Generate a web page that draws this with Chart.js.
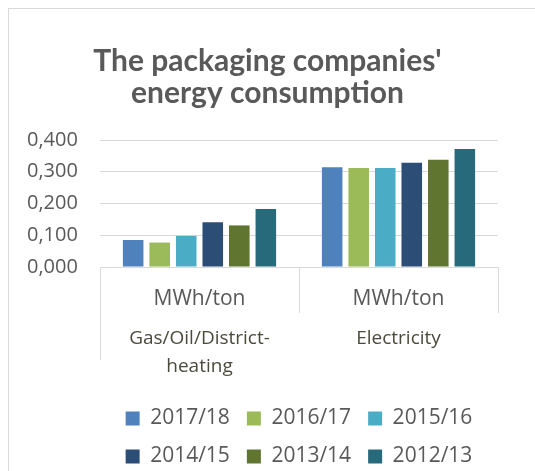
<!DOCTYPE html>
<html>
<head>
<meta charset="utf-8">
<script src="https://cdn.jsdelivr.net/npm/chart.js@4.4.0/dist/chart.umd.min.js"></script>
<style>
  html, body { margin: 0; padding: 0; overflow: hidden; background: #fff; }
  #frame {
    position: absolute; left: 8px; top: 8px; width: 600px; height: 600px;
    border-top: 1px solid #d9d9d9; border-left: 1px solid #d9d9d9;
  }
  #wrap { position: absolute; left: 0; top: 0; width: 535px; height: 471px; }
</style>
</head>
<body>
<div id="frame"></div>
<div id="wrap"><canvas id="energyChart" width="535" height="471"></canvas></div>
<script>
const units = ["MWh/ton", "MWh/ton"];
const energyTypes = [["Gas/Oil/District-", "heating"], "Electricity"];
const seasons = ["2017/18", "2016/17", "2015/16", "2014/15", "2013/14", "2012/13"];
const seasonColors = ["#4F81BD", "#9BBB59", "#4BACC6", "#2C4D75", "#5F7530", "#276A7C"];

// one value per season, same order as seasons
const gasOilDistrict = [0.085, 0.077, 0.098, 0.141, 0.131, 0.183];
const electricity = [0.314, 0.312, 0.312, 0.328, 0.338, 0.372];

const yTicks = [0, 0.1, 0.2, 0.3, 0.4];

const axisGrey = "#d9d9d9";
const textGrey = "#595959";

const datasets = seasons.map((season, i) => ({
  label: season,
  data: [gasOilDistrict[i], electricity[i]],
  backgroundColor: seasonColors[i],
  borderWidth: 0,
  categoryPercentage: 0.8,
  barPercentage: 0.775,
}));

const ctx = document.getElementById("energyChart").getContext("2d");
new Chart(ctx, {
  type: "bar",
  data: { labels: units, datasets: datasets },
  options: {
    responsive: false,
    animation: false,
    devicePixelRatio: 1,
    layout: { padding: { left: 37, right: 37, top: 0, bottom: -6 } },
    plugins: {
      tooltip: { enabled: false },
      title: {
        display: true,
        text: ["The packaging companies'", "energy consumption"],
        color: textGrey,
        font: { family: "Lato", size: 30, weight: "bold", lineHeight: 32 / 30 },
        padding: { top: 45, bottom: 31 },
      },
      legend: {
        position: "bottom",
        fullSize: false,
        labels: {
          boxWidth: 14,
          boxHeight: 14,
          padding: 17,
          color: textGrey,
          font: { family: "Open Sans", size: 21 },
        },
      },
    },
    scales: {
      y: {
        min: yTicks[0],
        max: yTicks[yTicks.length - 1],
        ticks: {
          stepSize: yTicks[1] - yTicks[0],
          // mirrored + negative padding puts the labels back left of the plot
          // without the label clip box cutting them at the layout padding
          mirror: true,
          padding: -73,
          color: textGrey,
          font: { family: "Open Sans", size: 20 },
          callback: (v) => v.toFixed(3).replace(".", ","),
        },
        grid: { color: axisGrey, drawTicks: false },
        border: { display: false },
        afterFit: (scale) => {
          scale.width = 63;
        },
      },
      // first level: unit row, labels sit between the divider ticks
      x: {
        grid: { offset: true, drawOnChartArea: false, tickLength: 46, color: axisGrey },
        border: { display: true, color: axisGrey },
        ticks: {
          padding: -27,
          maxRotation: 0,
          autoSkip: false,
          color: textGrey,
          font: { family: "Open Sans", size: 21 },
        },
        afterFit: (scale) => {
          scale.height = 46;
        },
      },
      // second level: energy type row
      x2: {
        type: "category",
        labels: energyTypes,
        position: "bottom",
        offset: true,
        grid: {
          offset: true,
          drawOnChartArea: false,
          tickLength: 47,
          color: (c) => (c.index === 0 ? axisGrey : "rgba(0,0,0,0)"),
        },
        border: { display: false },
        ticks: {
          padding: -35,
          maxRotation: 0,
          autoSkip: false,
          color: "#4b4a3c",
          font: { family: "Open Sans", size: 19, lineHeight: 28 / 19 },
        },
        afterFit: (scale) => {
          scale.height = 78;
        },
      },
    },
  },
});
</script>
</body>
</html>
